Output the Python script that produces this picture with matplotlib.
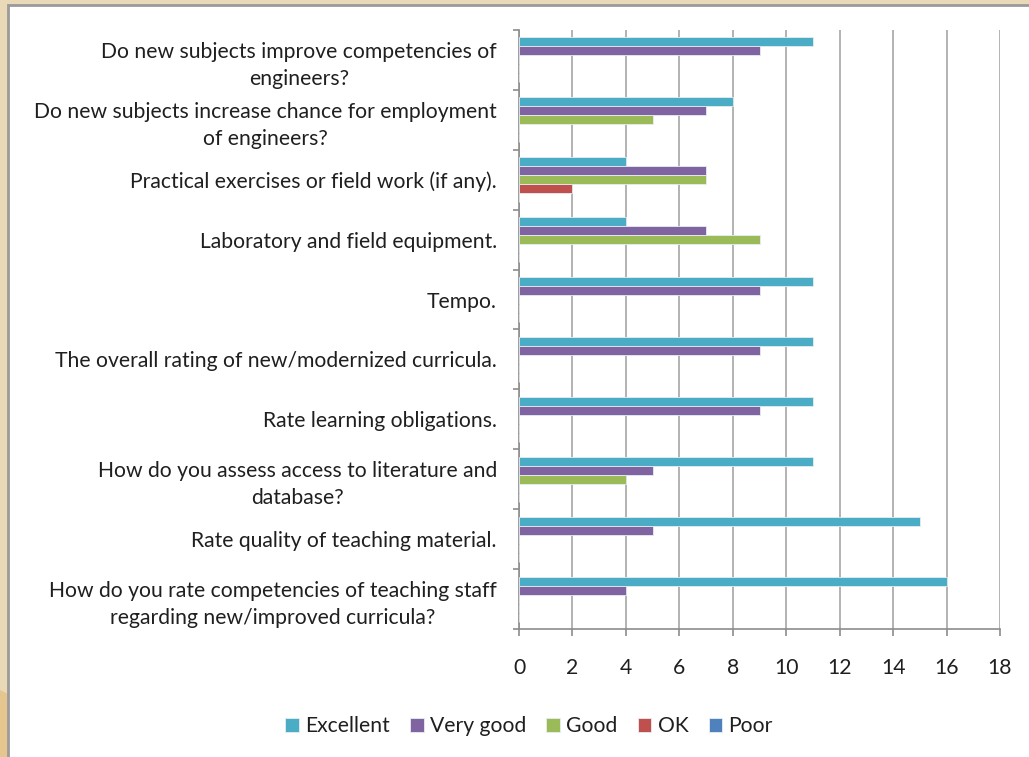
import matplotlib
matplotlib.use("Agg")
import matplotlib.pyplot as plt
import numpy as np
from matplotlib.patches import Rectangle, Polygon

categories = [
    "Do new subjects improve competencies of\nengineers?",
    "Do new subjects increase chance for employment\nof engineers?",
    "Practical exercises or field work (if any).",
    "Laboratory and field equipment.",
    "Tempo.",
    "The overall rating of new/modernized curricula.",
    "Rate learning obligations.",
    "How do you assess access to literature and\ndatabase?",
    "Rate quality of teaching material.",
    "How do you rate competencies of teaching staff\nregarding new/improved curricula?",
]
series_names = ["Excellent", "Very good", "Good", "OK", "Poor"]
excellent = [11, 8, 4, 4, 11, 11, 11, 11, 15, 16]
very_good = [9, 7, 7, 7, 9, 9, 9, 5, 5, 4]
good = [0, 5, 7, 9, 0, 0, 0, 4, 0, 0]
ok = [0, 0, 2, 0, 0, 0, 0, 0, 0, 0]
poor = [0, 0, 0, 0, 0, 0, 0, 0, 0, 0]
x_ticks = [0, 2, 4, 6, 8, 10, 12, 14, 16, 18]

colors = ["#4BACC6", "#8064A2", "#9BBB59", "#C0504D", "#4F81BD"]

plt.rcParams['font.family'] = ['Lato', 'DejaVu Sans']

W, H = 1029, 757
fig = plt.figure(figsize=(W / 100, H / 100), dpi=100)
fig.patch.set_facecolor("#EAD9B7")

# background decorations
bg = fig.add_axes([0, 0, 1, 1], zorder=-10)
bg.set_xlim(0, W)
bg.set_ylim(H, 0)
bg.axis("off")
bg.add_patch(Polygon([[0, 690], [60, 720], [60, H], [0, H]], closed=True,
                     facecolor="#E4C68E", edgecolor="none"))
bg.add_patch(Rectangle((8, 5), W, H, facecolor="white", edgecolor="#9A9A9A", linewidth=2.0))

left, right, top, bottom = 519, 1000, 30, 629
ax = fig.add_axes([left / W, 1 - bottom / H, (right - left) / W, (bottom - top) / H])
ax.set_facecolor("none")

data = [excellent, very_good, good, ok, poor]
n = len(categories)
y = np.arange(n)
bh = 0.15
for i, (name, vals) in enumerate(zip(series_names, data)):
    ax.barh(y - 2 * bh + i * bh, vals, height=bh, color=colors[i], label=name,
            edgecolor="#E6EEF2", linewidth=0.6, zorder=3)

FS = 15.2
ax.set_ylim(n - 0.5, -0.5)
ax.set_xlim(0, 18)
ax.set_xticks(x_ticks)
ax.set_yticks(np.arange(-0.5, n, 1.0), minor=False)
ax.set_yticklabels([])
ax.set_yticks(y, minor=True)
ax.set_yticklabels(categories, minor=True, multialignment="center", fontsize=FS,
                   color="#1f1f1f", linespacing=1.42)
ax.tick_params(axis="y", which="minor", length=0, pad=16)
ax.tick_params(axis="y", which="major", length=4.5, direction="out", color="#8C8C8C", width=1.2)
ax.tick_params(axis="x", length=5, direction="out", color="#8C8C8C", width=1.2,
               labelsize=FS, pad=16, labelcolor="#1f1f1f")

ax.grid(axis="x", color="#A6A6A6", linewidth=1.2, zorder=0)
for s in ["top", "right"]:
    ax.spines[s].set_visible(False)
for s in ["left", "bottom"]:
    ax.spines[s].set_color("#8C8C8C")
    ax.spines[s].set_linewidth(1.2)

handles, labels = ax.get_legend_handles_labels()
leg = fig.legend(handles, labels, loc="center", bbox_to_anchor=(529 / W, 1 - 726 / H),
                 ncol=5, frameon=False, fontsize=FS, handlelength=0.65, handleheight=0.65,
                 handletextpad=0.3, columnspacing=0.95, labelcolor="#1f1f1f")

fig.savefig("out.png", dpi=100, facecolor=fig.get_facecolor())
